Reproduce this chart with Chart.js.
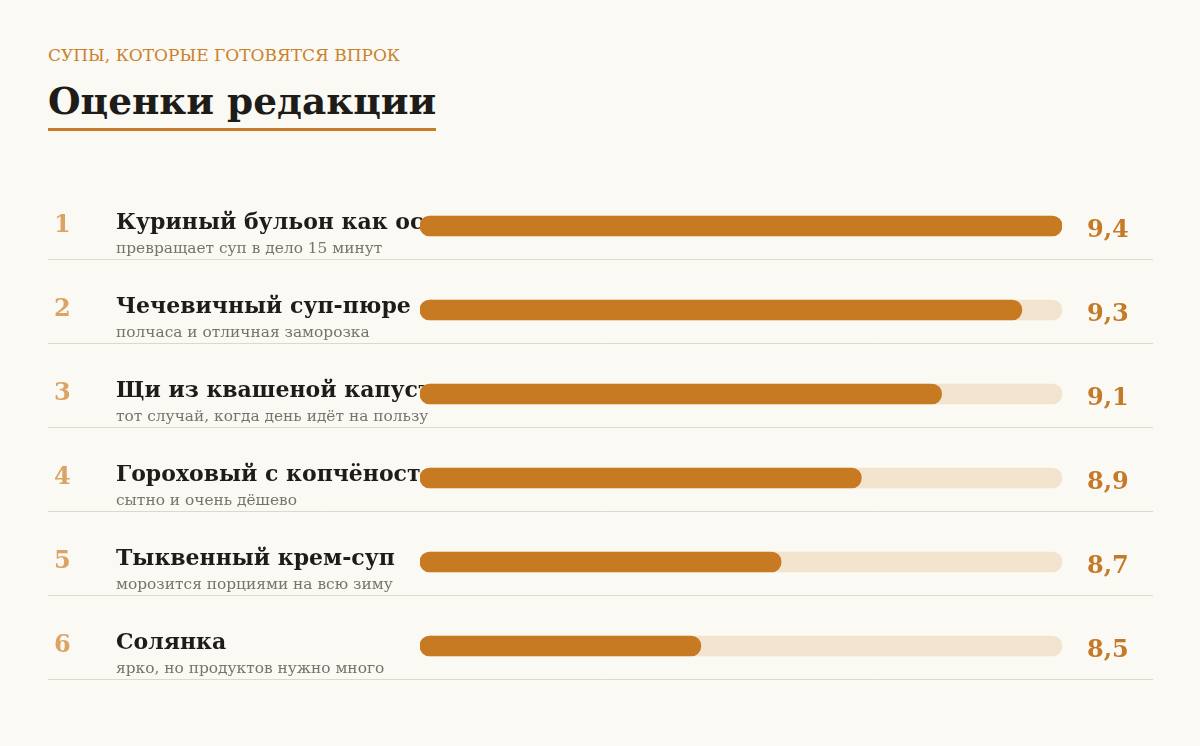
<!DOCTYPE html>
<html lang="ru">
<head>
<meta charset="utf-8">
<script src="https://cdn.jsdelivr.net/npm/chart.js@4"></script>
<style>
  html, body { margin: 0; padding: 0; background: #fbf9f3; }
  body { width: 1200px; height: 746px; position: relative; overflow: hidden; font-family: Georgia, 'DejaVu Serif', serif; }
  .kicker { position: absolute; left: 48px; top: 45px; font-size: 17px; color: #c8832f; letter-spacing: 0; }
  .title { position: absolute; left: 48px; top: 77px; font-size: 37.4px; font-weight: bold; color: #1e1c19; padding-bottom: 3px; border-bottom: 3px solid #c87b26; line-height: 48px; }
  #wrap { position: absolute; left: 0; top: 0; width: 1200px; height: 746px; }
</style>
</head>
<body>
<div class="kicker">СУПЫ, КОТОРЫЕ ГОТОВЯТСЯ ВПРОК</div>
<div class="title">Оценки редакции</div>
<div id="wrap"><canvas id="grafico"></canvas></div>
<script>
const ranks = ['1', '2', '3', '4', '5', '6'];
const titles = [
  'Куриный бульон как основа',
  'Чечевичный суп-пюре',
  'Щи из квашеной капусты',
  'Гороховый с копчёностями',
  'Тыквенный крем-суп',
  'Солянка'
];
const notes = [
  'превращает суп в дело 15 минут',
  'полчаса и отличная заморозка',
  'тот случай, когда день идёт на пользу',
  'сытно и очень дёшево',
  'морозится порциями на всю зиму',
  'ярко, но продуктов нужно много'
];
const scores = [9.4, 9.3, 9.1, 8.9, 8.7, 8.5];
const scaleMin = 7.8;
const scaleMax = 9.4;

const serif = "Georgia, 'DejaVu Serif', serif";

const rowText = {
  id: 'rowText',
  beforeDatasetsDraw(chart) {
    const c = chart.ctx;
    const yScale = chart.scales.y;
    c.save();
    c.textAlign = 'left';
    c.textBaseline = 'alphabetic';
    titles.forEach((t, i) => {
      const y = yScale.getPixelForValue(i);
      // separator
      c.strokeStyle = '#dcd8ce';
      c.lineWidth = 1;
      c.beginPath();
      c.moveTo(48, Math.round(y + 33) + 0.5);
      c.lineTo(1153, Math.round(y + 33) + 0.5);
      c.stroke();
      // rank
      c.fillStyle = '#dba366';
      c.font = 'bold 24px ' + serif;
      c.fillText(ranks[i], 54, y + 6);
      // title
      c.fillStyle = '#1e1c19';
      c.font = 'bold 22px ' + serif;
      c.fillText(t, 116, y + 3);
      // note
      c.fillStyle = '#77736c';
      c.font = '15.4px ' + serif;
      c.fillText(notes[i], 116, y + 27);
    });
    c.restore();
  },
  afterDatasetsDraw(chart) {
    const c = chart.ctx;
    const yScale = chart.scales.y;
    c.save();
    c.fillStyle = '#c47a26';
    c.font = 'bold 24px ' + serif;
    c.textAlign = 'left';
    scores.forEach((v, i) => {
      const y = yScale.getPixelForValue(i);
      c.fillText(v.toFixed(1).replace('.', ','), 1087, y + 11);
    });
    c.restore();
  }
};

const ctx = document.getElementById('grafico').getContext('2d');

new Chart(ctx, {
  type: 'bar',
  data: {
    labels: titles,
    datasets: [
      {
        label: 'Оценка',
        data: scores,
        backgroundColor: '#c87a22',
        barThickness: 20,
        borderRadius: 10,
        borderSkipped: false
      },
      {
        label: 'Шкала',
        data: scores.map(() => scaleMax),
        backgroundColor: '#f3e4cf',
        barThickness: 20,
        borderRadius: 10,
        borderSkipped: false
      }
    ]
  },
  options: {
    indexAxis: 'y',
    animation: false,
    responsive: true,
    maintainAspectRatio: false,
    layout: { padding: { left: 420, right: 138, top: 184, bottom: 58 } },
    plugins: { legend: { display: false }, tooltip: { enabled: false } },
    datasets: { bar: { grouped: false, base: scaleMin } },
    scales: {
      x: { display: false, min: scaleMin, max: scaleMax },
      y: { display: false }
    }
  },
  plugins: [rowText]
});
</script>
</body>
</html>
